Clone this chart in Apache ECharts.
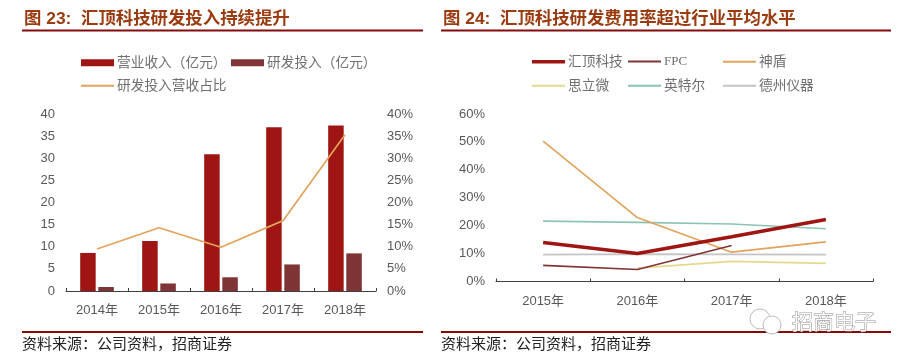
<!DOCTYPE html>
<html><head><meta charset="utf-8">
<style>html,body{margin:0;padding:0;background:#fff}#c{width:908px;height:363px}</style>
<script src="https://cdn.jsdelivr.net/npm/echarts@6/dist/echarts.min.js"></script>
</head><body><div id="c"></div>
<script>
const years1 = ['2014年','2015年','2016年','2017年','2018年'];
const revenue = [8.6,11.3,30.9,37.0,37.4];
const rdSpend = [0.9,1.7,3.1,6.0,8.5];
const rdRatio = [9.5,14.3,9.9,15.9,35.3];
const years2 = ['2015年','2016年','2017年','2018年'];
const goodix = [14.0,10.0,16.0,22.2];
const fpc = [5.8,4.3,12.9,null];
const shendun = [50.3,22.9,10.5,14.2];
const silead = [null,4.8,7.2,6.5];
const intel = [21.6,21.2,20.6,18.9];
const ti = [9.6,9.8,9.7,9.6];
const title1 = '图 23:  汇顶科技研发投入持续提升';
const title2 = '图 24:  汇顶科技研发费用率超过行业平均水平';
const sourceText = '资料来源\uFF1A公司资料\uFF0C招商证券';
const nameRevenue = '营业收入\uFF08亿元\uFF09';
const nameSpend = '研发投入\uFF08亿元\uFF09';

const FONT = '"Liberation Sans","Noto Sans CJK SC",sans-serif';
const AX = '#404040', LBL = '#595959', LEG = '#6f6f6f';
const RED='#9e1513', BROWN='#7f3535', ORANGE='#e3a35c', YEL='#e6d88f', TEAL='#8cc4b4', GREY='#c4c4c4';
const axisLabel = {color:LBL,fontSize:13,fontFamily:FONT};
const catAxis = (gi,data)=>({type:'category',gridIndex:gi,data,
  axisLine:{show:true,onZero:false,lineStyle:{color:AX,width:1}},
  axisTick:{show:true,inside:true,length:3,alignWithLabel:false,lineStyle:{color:AX}},
  axisLabel:{...axisLabel,margin:13,interval:0},splitLine:{show:false}});
const valAxis = (gi,max,iv,fmt,pos)=>({type:'value',gridIndex:gi,min:0,max,interval:iv,position:pos,
  axisLine:{show:false},axisTick:{show:false},splitLine:{show:false},
  axisLabel:{...axisLabel,margin:11,formatter:fmt}});
const line = (name,data,color,width,xi,yi)=>({name,type:'line',data,xAxisIndex:xi,yAxisIndex:yi,
  symbol:'none',smooth:false,connectNulls:false,lineStyle:{color,width},itemStyle:{color}});
// one legend per entry so each key can have its own thickness and position
const legend = (left,cy,name,h,textExtra)=>({left,top:cy-8,orient:'horizontal',itemWidth:33,itemHeight:h,selectedMode:false,
  padding:0,height:16,textStyle:{color:LEG,fontSize:13.7,fontFamily:FONT,padding:[0,0,0,-2],...(textExtra||{})},
  icon:'rect',data:[name]});
const rule = (x1,x2,y,w)=>({type:'line',shape:{x1,y1:y,x2,y2:y},style:{stroke:'#850b0b',lineWidth:w},silent:true});
const head = (x,text)=>({type:'text',x,y:19,style:{text,verticalAlign:'middle',font:'bold 17.4px "Liberation Sans","Noto Sans CJK SC",sans-serif',fill:'#9b3c10'}});
const foot = (x)=>({type:'text',x,y:343,style:{text:sourceText,verticalAlign:'middle',font:'15px "Noto Sans CJK SC",sans-serif',fill:'#222'}});

const chart = echarts.init(document.getElementById('c'),null,{renderer:'canvas'});
chart.setOption({
  animation:false,backgroundColor:'#fff',
  grid:[{left:66,top:114,width:310,height:177},{left:496,top:114,width:377,height:167.5}],
  xAxis:[catAxis(0,years1),catAxis(1,years2)],
  yAxis:[valAxis(0,40,5,'{value}','left'),
         valAxis(0,40,5,'{value}%','right'),
         valAxis(1,60,10,'{value}%','left')],
  legend:[
    legend(81,64,nameRevenue,7),
    legend(231,64,nameSpend,7),
    legend(81,87,'研发投入营收占比',2),
    legend(532,63,'汇顶科技',3.5),
    legend(628,63,'FPC',2,{fontFamily:'"Liberation Serif",serif',fontSize:13}),
    legend(723,63,'神盾',2),
    legend(532,87,'思立微',2),
    legend(628,87,'英特尔',2),
    legend(723,87,'德州仪器',2)
  ],
  series:[
    {name:nameRevenue,type:'bar',data:revenue,xAxisIndex:0,yAxisIndex:0,barWidth:15.5,barGap:'17%',itemStyle:{color:RED}},
    {name:nameSpend,type:'bar',data:rdSpend,xAxisIndex:0,yAxisIndex:0,barWidth:15.5,barGap:'17%',itemStyle:{color:BROWN}},
    line('研发投入营收占比',rdRatio,ORANGE,1.7,0,1),
    line('英特尔',intel,TEAL,1.7,1,2),
    line('德州仪器',ti,GREY,1.7,1,2),
    line('思立微',silead,YEL,1.7,1,2),
    line('神盾',shendun,ORANGE,1.7,1,2),
    line('FPC',fpc,BROWN,1.7,1,2),
    line('汇顶科技',goodix,RED,3.5,1,2)
  ],
  graphic:[
    head(24,title1),head(443,title2),
    rule(22,423,30.5,2),rule(441,891,30.5,2),
    rule(22,423,332,2),rule(441,891,332,2),
    foot(22),foot(441),
    {type:'circle',shape:{cx:760,cy:319,r:10},style:{fill:'#fff',stroke:'#bdbdbd',lineWidth:1}},
    {type:'circle',shape:{cx:772,cy:325,r:9},style:{fill:'#fff',stroke:'#bdbdbd',lineWidth:1}},
    {type:'text',x:792,y:311,style:{text:'招商电子',font:'21px "Noto Sans CJK SC",sans-serif',fill:'#fff',stroke:'#8f8f8f',lineWidth:1}}
  ]
});
</script></body></html>
